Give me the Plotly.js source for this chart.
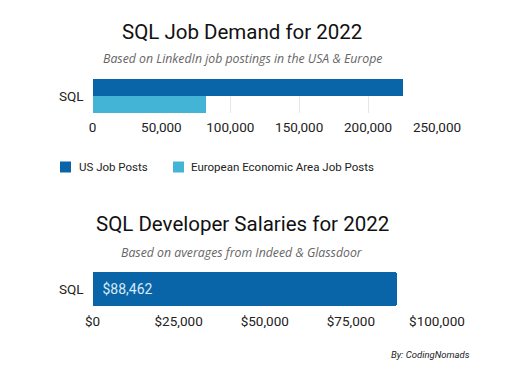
<!DOCTYPE html>
<html>
<head>
<meta charset="utf-8">
<script src="https://cdn.plot.ly/plotly-3.0.1.min.js"></script>
<style>html,body{margin:0;padding:0;background:#fff;}#chart{width:511px;height:385px;}</style>
</head>
<body>
<div id="chart"></div>
<script>
// Data
const categories = ['SQL'];
const seriesNames = ['US Job Posts', 'European Economic Area Job Posts'];
const usJobPosts = [225000];
const eeaJobPosts = [82000];
const salaryValues = [88462];
const salaryLabels = ['$88,462'];
const demandTicks = [0, 50000, 100000, 150000, 200000, 250000];
const demandTickLabels = ['0', '50,000', '100,000', '150,000', '200,000', '250,000'];
const salaryTicks = [0, 25000, 50000, 75000, 100000];
const salaryTickLabels = ['$0', '$25,000', '$50,000', '$75,000', '$100,000'];

const W = 511, H = 385;
const px = v => v / W;
const py = v => 1 - v / H;

const darkBlue = '#0a64a8';
const lightBlue = '#43b4d6';
const seriesColors = [darkBlue, lightBlue];

const traces = [
  {type: 'bar', orientation: 'h', name: seriesNames[0], y: categories, x: usJobPosts,
   marker: {color: seriesColors[0]}, xaxis: 'x', yaxis: 'y', hoverinfo: 'none'},
  {type: 'bar', orientation: 'h', name: seriesNames[1], y: categories, x: eeaJobPosts,
   marker: {color: seriesColors[1]}, xaxis: 'x', yaxis: 'y', hoverinfo: 'none'},
  {type: 'bar', orientation: 'h', name: 'Salary', y: categories, x: salaryValues, text: salaryLabels,
   textposition: 'inside', insidetextanchor: 'start', texttemplate: '\u00a0\u00a0%{text}',
   textfont: {family: 'Roboto', size: 14, color: '#d8ebf8'},
   marker: {color: darkBlue, cornerradius: 3}, xaxis: 'x2', yaxis: 'y2', hoverinfo: 'none'}
];

const tickFont = {family: 'Roboto', size: 13.5, color: '#222'};

// Custom legend (square swatches + labels) placed as in the reference
const legendX = [60, 173];
const legendTextX = [77, 189];
const legendY = 167;
const legendShapes = seriesNames.map((n, i) => ({
  type: 'rect', xref: 'paper', yref: 'paper',
  x0: px(legendX[i]), x1: px(legendX[i] + 11), y0: py(legendY + 5.5), y1: py(legendY - 5.5),
  fillcolor: seriesColors[i], line: {width: 0}
}));
const legendAnn = seriesNames.map((n, i) => ({
  text: n, x: px(legendTextX[i]), y: py(legendY), xref: 'paper', yref: 'paper',
  xanchor: 'left', yanchor: 'middle', showarrow: false,
  font: {family: 'Roboto', size: 11.5, color: '#222'}
}));

const layout = {
  width: W, height: H,
  margin: {l: 0, r: 0, t: 0, b: 0},
  paper_bgcolor: '#fff', plot_bgcolor: '#fff',
  barmode: 'group', bargap: 0, bargroupgap: 0,
  showlegend: false,
  xaxis: {domain: [px(92.5), px(437)], range: [0, 250000], tickvals: demandTicks, ticktext: demandTickLabels,
          showgrid: true, gridcolor: '#e6e6e6', zeroline: false,
          showline: false, ticks: '', tickfont: tickFont, anchor: 'y', ticklabelstandoff: 4},
  yaxis: {domain: [py(113), py(79)], autorange: 'reversed', ticks: '', showline: false,
          tickfont: tickFont, anchor: 'x', ticklabelstandoff: 8},
  xaxis2: {domain: [px(92.5), px(437)], range: [0, 100000], tickvals: salaryTicks, ticktext: salaryTickLabels,
           showgrid: true, gridcolor: '#e6e6e6', zeroline: false,
           showline: false, ticks: '', tickfont: tickFont, anchor: 'y2', ticklabelstandoff: 5},
  yaxis2: {domain: [py(306), py(272)], ticks: '', showline: false, tickfont: tickFont, anchor: 'x2', ticklabelstandoff: 8},
  shapes: legendShapes,
  annotations: [
    {text: 'SQL Job Demand for 2022', x: px(242), y: py(32), xref: 'paper', yref: 'paper',
     xanchor: 'center', yanchor: 'middle', showarrow: false, font: {family: 'Roboto', size: 20.5, color: '#111'}},
    {text: '<i>Based on LinkedIn job postings in the USA &amp; Europe</i>', x: px(242), y: py(59), xref: 'paper', yref: 'paper',
     xanchor: 'center', yanchor: 'middle', showarrow: false, font: {family: 'Open Sans', size: 12.3, color: '#666'}},
    {text: 'SQL Developer Salaries for 2022', x: px(242), y: py(224), xref: 'paper', yref: 'paper',
     xanchor: 'center', yanchor: 'middle', showarrow: false, font: {family: 'Roboto', size: 20.5, color: '#111'}},
    {text: '<i>Based on averages from Indeed &amp; Glassdoor</i>', x: px(242), y: py(252), xref: 'paper', yref: 'paper',
     xanchor: 'center', yanchor: 'middle', showarrow: false, font: {family: 'Open Sans', size: 12.3, color: '#666'}},
    {text: '<i>By: CodingNomads</i>', x: px(472), y: py(354), xref: 'paper', yref: 'paper',
     xanchor: 'right', yanchor: 'middle', showarrow: false, font: {family: 'Roboto', size: 9.5, color: '#222'}}
  ].concat(legendAnn)
};

Plotly.newPlot('chart', traces, layout, {displayModeBar: false, staticPlot: true});
</script>
</body>
</html>
